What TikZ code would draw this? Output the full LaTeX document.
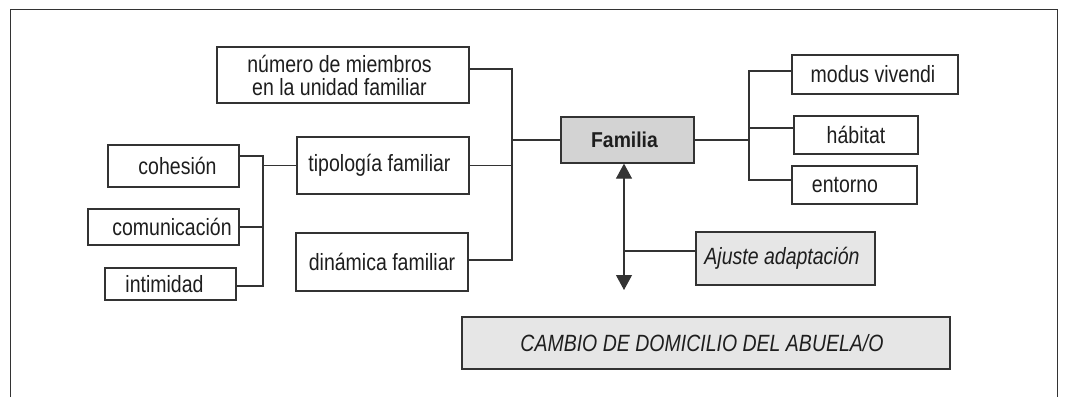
\documentclass[tikz,border=0pt]{standalone}
\usepackage{fontspec}
\setmainfont{Liberation Sans}[FakeStretch=0.83]
\newfontfamily\famfont{Liberation Sans}[FakeStretch=0.9]
\usetikzlibrary{arrows.meta}
\definecolor{linec}{HTML}{333333}
\definecolor{darkfill}{HTML}{D3D3D3}
\definecolor{lightfill}{HTML}{E6E6E6}
\definecolor{txt}{HTML}{1E1E1E}
\begin{document}
\begin{tikzpicture}[x=1pt,y=-1pt,
  every node/.style={font=\fontsize{23.5}{23}\selectfont, text=txt},
  box/.style={draw=linec, line width=1.3pt, fill=white, inner sep=0pt, align=center},
  conn/.style={draw=linec, line width=1.1pt},
  arr/.style={conn, {Triangle[length=15pt,width=16pt]}-{Triangle[length=15pt,width=16pt]}}]
\useasboundingbox (0,0) rectangle (1076,397);
% frame
\draw[linec, line width=1pt] (10,397) -- (10,9) -- (1057,9) -- (1057,397);
% nodes
\node[box, minimum width=252pt, minimum height=56pt] (num) at (343,75) {número de miembros\hspace*{7pt}\\en la unidad familiar\hspace*{7pt}};
\node[box, minimum width=172pt, minimum height=57pt] (tip) at (383,165.5) {tipología familiar\hspace*{7pt}};
\node[box, minimum width=131pt, minimum height=42pt] (coh) at (173.5,166) {\hspace*{8pt}cohesión};
\node[box, minimum width=151pt, minimum height=36pt] (com) at (163.5,227) {\hspace*{17pt}comunicación};
\node[box, minimum width=131pt, minimum height=32pt] (int) at (170.5,284) {intimidad\hspace*{12pt}};
\node[box, minimum width=172pt, minimum height=58pt] (din) at (382,262) {dinámica familiar};
\node[box, fill=darkfill, minimum width=133pt, minimum height=46pt, font=\famfont\fontsize{21.5}{24}\selectfont\bfseries] (fam) at (627.5,140) {Familia\hspace*{6pt}};
\node[box, minimum width=166pt, minimum height=39pt] (mod) at (875,74.5) {modus vivendi\hspace*{4pt}};
\node[box, minimum width=124pt, minimum height=38pt] (hab) at (856,135) {hábitat};
\node[box, minimum width=125pt, minimum height=38pt] (ent) at (854.5,185) {entorno\hspace*{19pt}};
\node[box, fill=lightfill, minimum width=179pt, minimum height=53pt, font=\fontsize{23.5}{23}\selectfont\itshape] (aju) at (785.5,258.5) {Ajuste adaptación\hspace*{7pt}};
\node[box, fill=lightfill, minimum width=488pt, minimum height=52pt, font=\fontsize{23.5}{23}\selectfont\itshape] (cam) at (706,343) {CAMBIO DE DOMICILIO DEL ABUELA/O\hspace*{8pt}};
% left bus
\coordinate (j1) at (263,156);
\coordinate (j1b) at (263,286);
\draw[conn] (coh.east |- j1) -- (j1) -- (j1b) -- (int.east |- j1b);
\draw[conn] (com.east) -- (com.east -| j1);
\draw[conn] (j1 |- tip.west) -- (tip.west);
% middle bus
\coordinate (j2) at (512,69);
\coordinate (j2b) at (512,260);
\draw[conn] (num.east |- j2) -- (j2) -- (j2b) -- (din.east |- j2b);
\draw[conn] (tip.east) -- (tip.east -| j2);
\draw[conn] (j2 |- fam.west) -- (fam.west);
% right bus
\coordinate (j3) at (749,71);
\coordinate (j3b) at (749,180);
\coordinate (j3h) at (749,128);
\draw[conn] (mod.west |- j3) -- (j3) -- (j3b) -- (ent.west |- j3b);
\draw[conn] (fam.east) -- (fam.east -| j3);
\draw[conn] (j3h) -- (hab.west |- j3h);
% arrow
\coordinate (a2) at (624,290);
\coordinate (a3) at (624,251);
\draw[arr] (a2 |- fam.south) -- (a2);
\draw[conn] (a3) -- (aju.west |- a3);
\end{tikzpicture}
\end{document}
